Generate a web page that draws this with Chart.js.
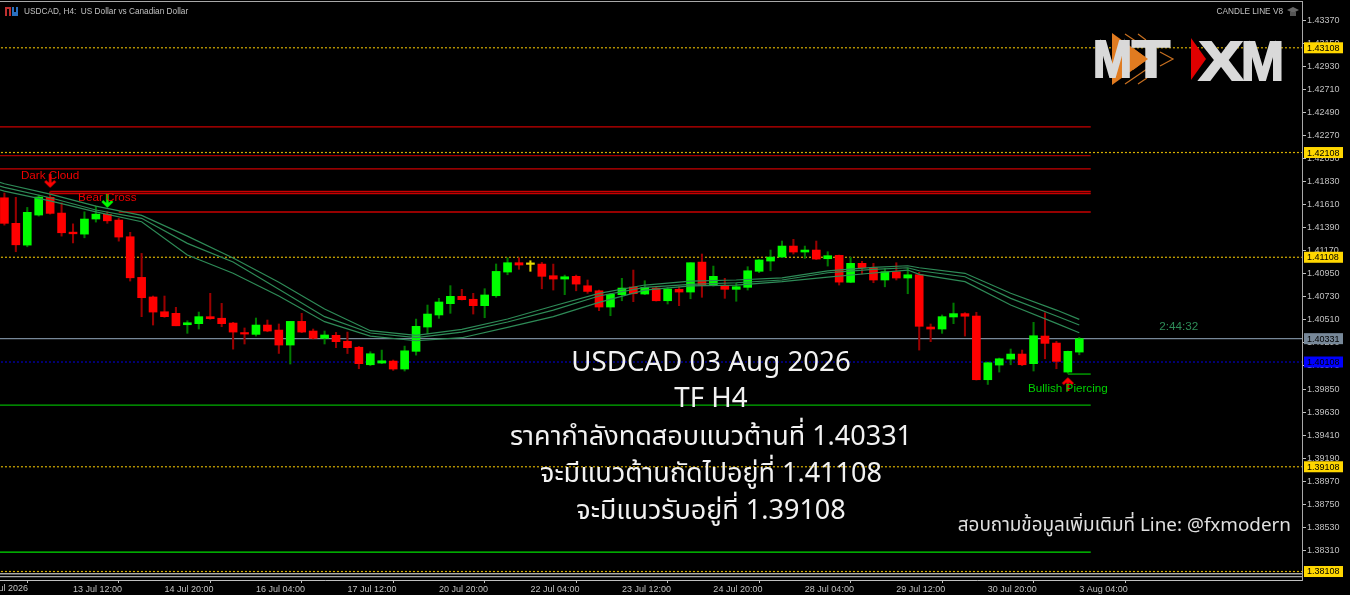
<!DOCTYPE html>
<html>
<head>
<meta charset="utf-8">
<style>
html, body { margin: 0; padding: 0; background: #000; overflow: hidden; }
canvas { display: block; }
</style>
<script src="https://cdn.jsdelivr.net/npm/chart.js@4"></script>
</head>
<body>
<canvas id="chart" width="1350" height="595"></canvas>
<script>
// H4 candles
const openP = [1.41676,1.41432,1.41224,1.41511,1.41680,1.41530,1.41348,1.41329,1.41473,1.41518,
  1.41463,1.41304,1.40916,1.40729,1.40588,1.40573,1.40464,1.40474,1.40541,1.40526,
  1.40480,1.40388,1.40372,1.40461,1.40413,1.40270,1.40496,1.40404,1.40334,1.40363,
  1.40306,1.40249,1.40082,1.40098,1.40117,1.40041,1.40210,1.40442,1.40557,1.40665,
  1.40735,1.40707,1.40646,1.40741,1.40967,1.41056,1.41040,1.41043,1.40932,1.40900,
  1.40926,1.40836,1.40788,1.40633,1.40751,1.40824,1.40757,1.40814,1.40693,1.40802,
  1.40776,1.41062,1.40840,1.40840,1.40802,1.40821,1.40974,1.41072,1.41110,1.41215,
  1.41158,1.41177,1.41094,1.41126,1.40869,1.41050,1.41008,1.40891,1.40970,1.40910,
  1.40941,1.40442,1.40423,1.40538,1.40570,1.40547,1.39939,1.40079,1.40136,1.40184,
  1.40092,1.40356,1.40289,1.40012,1.40203];
const closeP = [1.41432,1.41227,1.41537,1.41683,1.41527,1.41342,1.41332,1.41473,1.41520,1.41456,
  1.41301,1.40912,1.40722,1.40585,1.40541,1.40454,1.40483,1.40541,1.40522,1.40474,
  1.40394,1.40375,1.40461,1.40404,1.40270,1.40496,1.40394,1.40334,1.40366,1.40302,
  1.40245,1.40092,1.40187,1.40120,1.40041,1.40215,1.40449,1.40566,1.40681,1.40735,
  1.40703,1.40646,1.40748,1.40973,1.41056,1.41034,1.41040,1.40926,1.40900,1.40922,
  1.40852,1.40782,1.40633,1.40755,1.40814,1.40760,1.40821,1.40693,1.40805,1.40776,
  1.41056,1.40840,1.40926,1.40802,1.40827,1.40979,1.41082,1.41110,1.41215,1.41158,
  1.41177,1.41091,1.41123,1.40871,1.41050,1.41008,1.40891,1.40970,1.40910,1.40941,
  1.40449,1.40423,1.40541,1.40570,1.40545,1.39939,1.40101,1.40139,1.40184,1.40082,
  1.40359,1.40286,1.40114,1.40210,1.40331];
const highP = [1.41721,1.41680,1.41584,1.41702,1.41733,1.41628,1.41427,1.41542,1.41597,1.41542,
  1.41479,1.41346,1.41145,1.40738,1.40738,1.40630,1.40502,1.40585,1.40764,1.40668,
  1.40487,1.40433,1.40528,1.40509,1.40471,1.40496,1.40573,1.40423,1.40404,1.40391,
  1.40394,1.40257,1.40206,1.40222,1.40127,1.40260,1.40518,1.40652,1.40716,1.40837,
  1.40802,1.40764,1.40808,1.41044,1.41103,1.41103,1.41075,1.41059,1.41043,1.40938,
  1.40938,1.40891,1.40795,1.40764,1.40907,1.40986,1.40884,1.40819,1.40821,1.40827,
  1.41056,1.41139,1.41024,1.40907,1.40859,1.41018,1.41086,1.41177,1.41263,1.41279,
  1.41215,1.41263,1.41161,1.41129,1.41107,1.41069,1.41050,1.40999,1.41056,1.41003,
  1.40964,1.40471,1.40557,1.40671,1.40579,1.40583,1.40108,1.40146,1.40232,1.40222,
  1.40487,1.40579,1.40306,1.40213,1.40343];
const lowP = [1.41415,1.41161,1.41208,1.41501,1.41520,1.41310,1.41245,1.41294,1.41444,1.41432,
  1.41262,1.40881,1.40541,1.40461,1.40535,1.40454,1.40382,1.40423,1.40516,1.40445,
  1.40231,1.40280,1.40356,1.40397,1.40190,1.40089,1.40388,1.40328,1.40280,1.40245,
  1.40189,1.40044,1.40073,1.40092,1.40028,1.40022,1.40174,1.40378,1.40525,1.40573,
  1.40700,1.40566,1.40531,1.40726,1.40941,1.40993,1.40974,1.40807,1.40795,1.40751,
  1.40788,1.40764,1.40598,1.40550,1.40693,1.40684,1.40751,1.40690,1.40662,1.40646,
  1.40712,1.40726,1.40833,1.40716,1.40688,1.40795,1.40961,1.40979,1.41105,1.41139,
  1.41098,1.41086,1.41024,1.40843,1.40865,1.40948,1.40865,1.40826,1.40891,1.40760,
  1.40222,1.40302,1.40382,1.40474,1.40356,1.39936,1.39894,1.40012,1.40082,1.40073,
  1.40022,1.40139,1.40044,1.40000,1.40177];

// moving average ribbon, read at every 4th candle or so
const maIdx = [-1,0,4,8,12,16,20,24,28,32,36,40,44,48,52,56,60,64,68,72,76,79,80,84,88,92,94];
const maUpper = [1.41845,1.41810,1.41711,1.41597,1.41508,1.41310,1.41101,1.40869,1.40614,1.40407,1.40363,1.40420,1.40519,1.40643,1.40764,1.40843,1.40881,1.40891,1.40912,1.40979,1.41012,1.41027,1.41008,1.40955,1.40764,1.40604,1.40515];
const maMiddle = [1.41807,1.41776,1.41676,1.41559,1.41480,1.41241,1.41063,1.40802,1.40541,1.40385,1.40340,1.40394,1.40490,1.40604,1.40738,1.40821,1.40850,1.40865,1.40891,1.40960,1.40993,1.41008,1.40979,1.40922,1.40716,1.40547,1.40461];
const maLower = [1.41769,1.41740,1.41647,1.41542,1.41447,1.41129,1.40955,1.40738,1.40493,1.40356,1.40311,1.40340,1.40439,1.40541,1.40678,1.40795,1.40834,1.40843,1.40875,1.40919,1.40958,1.40986,1.40945,1.40875,1.40652,1.40477,1.40388];

// horizontal levels
const redLevels = [1.42352,1.42079,1.41951,1.41736,1.41717,1.41540];
const redStart = [-1,-1,-1,4,4,10];
const greenLevels = [1.39697,1.38294];
const pierceLevel = 1.39993;
const yellowLevels = [1.43108,1.42108,1.41108,1.39108,1.38108];
const askPrice = 1.40331;
const bluePrice = 1.40108;

const yTicks = [1.43370,1.43150,1.42930,1.42710,1.42490,1.42270,1.42050,1.41830,1.41610,1.41390,1.41170,1.40950,
  1.40730,1.40510,1.40290,1.40070,1.39850,1.39630,1.39410,1.39190,1.38970,1.38750,1.38530,1.38310];
const xTickIdx = [6,14,22,30,38,46,54,62,70,78,86,94];
const xTickLabels = ['13 Jul 12:00','14 Jul 20:00','16 Jul 04:00','17 Jul 12:00','20 Jul 20:00','22 Jul 04:00',
  '23 Jul 12:00','24 Jul 20:00','28 Jul 04:00','29 Jul 12:00','30 Jul 20:00','3 Aug 04:00'];

// pattern notes on the chart
const noteText = ['Dark Cloud','Bear Cross','Bullish Piercing','2:44:32'];
const noteIdx = [4,9,93,102.7];
const notePrice = [1.41893,1.41683,1.39860,1.40452];
const noteColor = ['#f00000','#f00000','#00d000','#2e8b57'];
const arrowIdx = [4,9,93];
const arrowPrice = [1.41836,1.41645,1.39898];

const headline = ['USDCAD 03 Aug 2026','TF H4','ราคากำลังทดสอบแนวต้านที่ 1.40331','จะมีแนวต้านถัดไปอยู่ที่ 1.41108','จะมีแนวรับอยู่ที่ 1.39108'];
const headlineRow = [363, 399, 437, 474, 511];
const headlineSize = [27.7, 27.7, 27, 27, 27];
const contactLine = 'สอบถามข้อมูลเพิ่มเติมที่ Line: @fxmodern';
const textFont = '"Noto Sans", "Noto Sans Thai", "DejaVu Sans", sans-serif';

const xMin = -0.385, xMax = 113.476, yMin = 1.38027, yMax = 1.43545, lineEnd = 95;
const bars = openP.map((o, i) => closeP[i] > o ? '#00ff00' : closeP[i] < o ? '#ff0000' : '#e6d800');
const wicks = openP.map((o, i) => closeP[i] > o ? '#007a00' : closeP[i] < o ? '#9a0000' : '#e6d800');

function makeArrow(color, up) {
  const c = document.createElement('canvas');
  c.width = 13; c.height = 14;
  const g = c.getContext('2d');
  g.strokeStyle = color;
  g.lineWidth = 2.5;
  if (up) { g.translate(0, 14); g.scale(1, -1); }
  g.beginPath();
  g.moveTo(6.5, 0); g.lineTo(6.5, 12);
  g.moveTo(1.5, 7); g.lineTo(6.5, 12); g.lineTo(11.5, 7);
  g.stroke();
  return c;
}

function levelLine(price, from, to, color, width, dash) {
  return {
    type: 'line', order: 6, data: [{x: from, y: price}, {x: to, y: price}],
    borderColor: color, borderWidth: width, borderDash: dash || [], pointRadius: 0
  };
}
function maLine(values) {
  return {
    type: 'line', order: 2, data: maIdx.map((x, i) => ({x: x, y: values[i]})),
    borderColor: '#2e8b57', borderWidth: 1.2, pointRadius: 0, tension: 0
  };
}

const datasets = [
  {type: 'bar', order: 5, grouped: false, barThickness: 1.4, minBarLength: 1,
    data: openP.map((o, i) => ({x: i, y: [lowP[i], highP[i]]})), backgroundColor: wicks},
  {type: 'bar', order: 4, grouped: false, barThickness: 8, minBarLength: 1.5,
    data: openP.map((o, i) => ({x: i, y: [o, closeP[i]]})), backgroundColor: bars},
  maLine(maUpper), maLine(maMiddle), maLine(maLower),
  {type: 'line', order: 1, showLine: false, data: arrowIdx.map((x, i) => ({x: x, y: arrowPrice[i]})),
    pointStyle: [makeArrow('#ff0000', false), makeArrow('#00ff00', false), makeArrow('#ff0000', true)], pointRadius: 7}
];
redLevels.forEach((p, i) => datasets.push(levelLine(p, redStart[i], lineEnd, i === 1 ? '#a00000' : '#c80000', 1.3)));
greenLevels.forEach((p, i) => datasets.push(levelLine(p, -1, lineEnd, i === 0 ? '#00b000' : '#00e000', 1.3)));
datasets.push(levelLine(pierceLevel, 93, lineEnd, '#00b000', 1.3));
yellowLevels.forEach(p => datasets.push(levelLine(p, -1, xMax, '#d8b000', 1.2, [2, 2])));
datasets.push(levelLine(askPrice, -1, xMax, '#778899', 1.3));
datasets.push(levelLine(bluePrice, -1, xMax, '#0000c0', 1.2, [2, 2]));

function priceTag(ctx, y, price, fill) {
  ctx.fillStyle = fill;
  ctx.fillRect(1304, y - 5.5, 39, 11);
  ctx.fillStyle = '#000';
  ctx.textAlign = 'left';
  ctx.fillText(price.toFixed(5), 1307, y + 0.5);
}
// draws a word stretched into the given box, the logo letters are wider than any installed font
function fitWord(ctx, word, x, w, base) {
  ctx.save();
  const m = ctx.measureText(word).width;
  ctx.translate(x, base);
  ctx.scale(w / m, 1);
  ctx.lineWidth = 2;
  ctx.strokeStyle = ctx.fillStyle;
  ctx.strokeText(word, 0, 0);
  ctx.fillText(word, 0, 0);
  ctx.restore();
}
function tri(ctx, pts, fill) {
  ctx.fillStyle = fill;
  ctx.beginPath();
  pts.forEach((p, i) => i ? ctx.lineTo(p[0], p[1]) : ctx.moveTo(p[0], p[1]));
  ctx.closePath();
  ctx.fill();
}

const framePlugin = {
  id: 'frame',
  beforeDatasetsDraw(chart) {
    // terminal window frame
    const ctx = chart.ctx;
    ctx.save();
    ctx.fillStyle = '#a8a8a8';
    ctx.fillRect(0, 1, 1303, 1);
    ctx.fillRect(1302, 1, 1, 580);
    ctx.restore();
  },
  afterDraw(chart) {
    const ctx = chart.ctx, xs = chart.scales.x, ys = chart.scales.y;
    ctx.save();
    ctx.fillStyle = '#a8a8a8';
    ctx.fillRect(0, 573, 1303, 1.5);
    ctx.fillRect(0, 576, 1303, 1.5);
    ctx.fillStyle = '#000';
    ctx.fillRect(0, 577.5, 1302, 2.5);

    // first time label is cut by the window edge
    ctx.font = '9px "Liberation Sans"';
    ctx.fillStyle = '#c0c0c0';
    ctx.textBaseline = 'middle';
    ctx.textAlign = 'left';
    ctx.fillText('10 Jul 2026', xs.getPixelForValue(-2), 588.5);

    // price tags on the axis
    yellowLevels.forEach(p => priceTag(ctx, ys.getPixelForValue(p), p, '#ffd700'));
    priceTag(ctx, ys.getPixelForValue(askPrice), askPrice, '#778899');
    priceTag(ctx, ys.getPixelForValue(bluePrice), bluePrice, '#0000ff');

    // header
    ctx.font = '8.25px "Liberation Sans"';
    ctx.fillStyle = '#c0c0c0';
    ctx.textAlign = 'left';
    ctx.fillText('USDCAD, H4:  US Dollar vs Canadian Dollar', 24, 11.5);
    ctx.textAlign = 'right';
    ctx.fillText('CANDLE LINE V8', 1283, 11.5);
    ctx.fillStyle = '#c03030'; ctx.fillRect(5, 7, 6, 9);
    ctx.fillStyle = '#2a70c0'; ctx.fillRect(12, 7, 6, 9);
    ctx.fillStyle = '#000'; ctx.fillRect(7, 9, 2, 7); ctx.fillRect(14, 7, 2, 5);
    tri(ctx, [[1287, 10], [1293, 7], [1299, 10], [1293, 13]], '#666');
    ctx.fillStyle = '#555'; ctx.fillRect(1290, 12, 6, 4);

    // notes
    ctx.textAlign = 'center';
    ctx.font = '11.7px "Liberation Sans"';
    noteText.forEach((t, i) => {
      ctx.fillStyle = noteColor[i];
      ctx.fillText(t, xs.getPixelForValue(noteIdx[i]), ys.getPixelForValue(notePrice[i]) + 1);
    });

    // logos, big triangle sits behind the M, small one in front of the T
    tri(ctx, [[1112, 33], [1148, 59], [1112, 85]], '#e07b20');
    tri(ctx, [[1191, 38], [1206, 59], [1191, 80]], '#e00000');
    ctx.strokeStyle = '#c87020';
    ctx.lineWidth = 1.2;
    ctx.beginPath();
    ctx.moveTo(1125, 34); ctx.lineTo(1137, 42);
    ctx.moveTo(1138, 34); ctx.lineTo(1146, 40);
    ctx.moveTo(1160, 52); ctx.lineTo(1173, 59); ctx.lineTo(1160, 66);
    ctx.moveTo(1125, 84); ctx.lineTo(1147, 69);
    ctx.moveTo(1138, 84); ctx.lineTo(1147, 78);
    ctx.stroke();
    ctx.textAlign = 'left';
    ctx.textBaseline = 'alphabetic';
    ctx.fillStyle = '#d9d9d9';
    ctx.font = 'bold 52px "Liberation Sans"';
    fitWord(ctx, 'M', 1093, 39, 77);
    fitWord(ctx, 'T', 1132, 38, 77);
    ctx.font = 'bold 56px "Liberation Sans"';
    fitWord(ctx, 'X', 1199, 44, 80);
    fitWord(ctx, 'M', 1241, 43, 80);
    tri(ctx, [[1133, 48], [1148, 59], [1133, 70]], '#e07b20');

    // message
    ctx.fillStyle = '#f2f2f2';
    ctx.textAlign = 'center';
    ctx.textBaseline = 'middle';
    headline.forEach((t, i) => {
      ctx.font = headlineSize[i] + 'px ' + textFont;
      ctx.fillText(t, 711, headlineRow[i]);
    });
    ctx.font = '18.85px ' + textFont;
    ctx.textAlign = 'right';
    ctx.fillStyle = '#e0e0e0';
    ctx.fillText(contactLine, 1291, 526);
    ctx.restore();
  }
};

new Chart(document.getElementById('chart').getContext('2d'), {
  type: 'bar',
  data: {datasets: datasets},
  plugins: [framePlugin],
  options: {
    responsive: false,
    animation: false,
    parsing: {xAxisKey: 'x', yAxisKey: 'y'},
    // autoPadding would push the plot in by the arrow point radius
    layout: {autoPadding: false, padding: {top: 2}},
    plugins: {legend: {display: false}, tooltip: {enabled: false}, title: {display: false}},
    scales: {
      x: {
        type: 'linear', offset: false, min: xMin, max: xMax,
        afterBuildTicks: s => { s.ticks = xTickIdx.map(v => ({value: v})); },
        afterFit: s => { s.height = 15; s.paddingLeft = 0; s.paddingRight = 0; },
        grid: {drawOnChartArea: false, tickLength: 3, tickColor: '#c0c0c0'},
        border: {color: '#c0c0c0'},
        ticks: {
          align: 'start', autoSkip: false, maxRotation: 0, padding: 1,
          color: '#c0c0c0', font: {family: 'Liberation Sans', size: 9},
          callback: v => xTickLabels[xTickIdx.indexOf(v)]
        }
      },
      y: {
        position: 'right', min: yMin, max: yMax,
        afterBuildTicks: s => { s.ticks = yTicks.map(v => ({value: v})); },
        afterFit: s => { s.width = 48; s.paddingTop = 0; s.paddingBottom = 0; },
        grid: {drawOnChartArea: false, tickLength: 4, tickColor: '#c0c0c0'},
        border: {display: false},
        ticks: {
          autoSkip: false, padding: 1, color: '#c0c0c0',
          font: {family: 'Liberation Sans', size: 9},
          callback: v => v.toFixed(5)
        }
      }
    }
  }
});
</script>
</body>
</html>
